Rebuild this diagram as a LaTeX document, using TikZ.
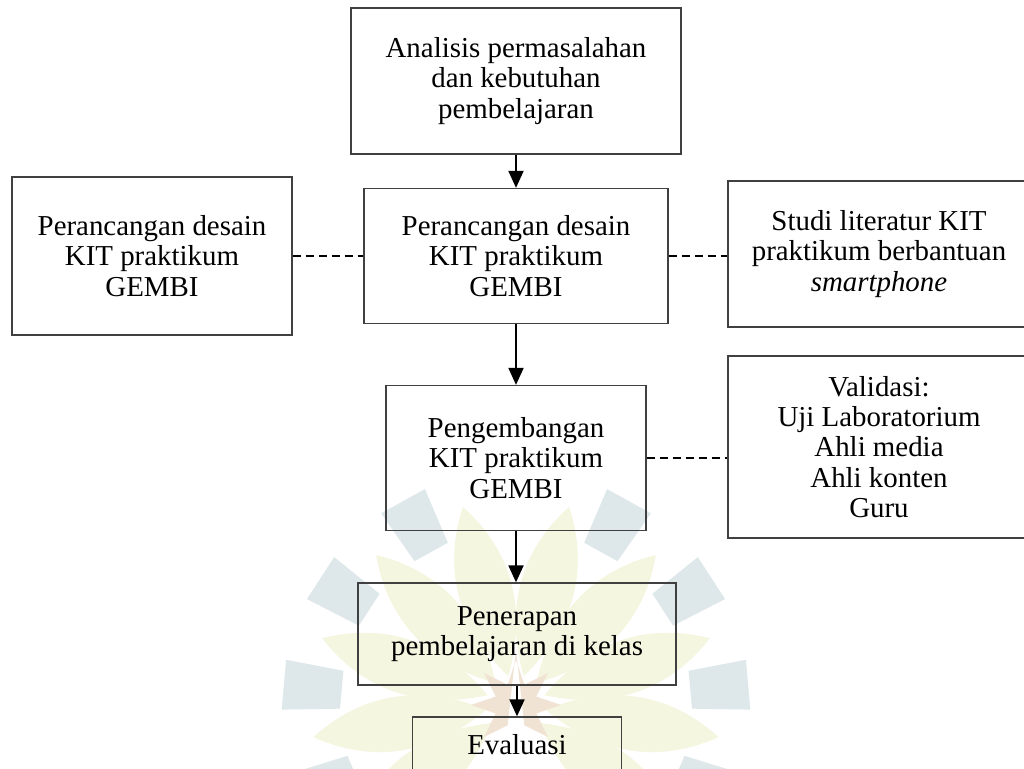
\documentclass[tikz,border=0pt]{standalone}
\usepackage{fontspec}
\setmainfont{Liberation Serif}
\usetikzlibrary{arrows.meta}
\definecolor{wmblue}{RGB}{222,231,234}
\definecolor{wmyellow}{RGB}{244,246,224}
\definecolor{wmstar}{RGB}{240,227,211}
\definecolor{boxline}{RGB}{64,64,64}
\tikzset{
  box/.style={draw=boxline, line width=1.3bp, align=center, inner sep=0pt,
    font=\fontsize{29}{30.4}\selectfont},
  flowarrow/.style={line width=2bp, -{Triangle[length=17bp,width=15bp]}},
  dashlink/.style={line width=1.6bp, dash pattern=on 8bp off 5bp},
  petal/.style={fill=wmyellow},
  ringpiece/.style={fill=wmblue},
}
\begin{document}
\begin{tikzpicture}[x=1bp,y=-1bp]
\useasboundingbox (0,0) rectangle (1024,769);
\fill[white] (0,0) rectangle (1024,769);
% faint watermark
\begin{scope}[shift={(516,705)}]
  \foreach \a in {-127,-99,-71,-43,-15,15,43,71,99,127} {
    \fill[petal, rotate=\a] (0,-30) .. controls (36,-90) and (36,-150) .. (0,-205)
      .. controls (-36,-150) and (-36,-90) .. (0,-30) -- cycle;
  }
  \foreach \a in {-141,-113,-85,-57,-29,29,57,85,113,141} {
    \fill[ringpiece, rotate=\a] (-19,-175) -- (19,-175) -- (25,-233) -- (-25,-233) -- cycle;
  }
  \fill[wmstar] (0,-55) \foreach \k in {1,...,15} { -- ({90+22.5*\k}:{33.5+11.5*cos(180*\k)}) } -- cycle;
\end{scope}

% boxes
\node[box, minimum width=330bp, minimum height=146bp] (ana) at (516,81)
  {Analisis permasalahan\\dan kebutuhan\\pembelajaran};
\node[box, minimum width=280bp, minimum height=158bp] (perL) at (152,256)
  {Perancangan desain\\KIT praktikum\\GEMBI};
\node[box, minimum width=304bp, minimum height=135bp] (perM) at (516,256)
  {Perancangan desain\\KIT praktikum\\GEMBI};
\node[box, minimum width=302bp, minimum height=146bp] (studi) at (879,254)
  {Studi literatur KIT\\praktikum berbantuan\\\textit{smartphone}};
\node[box, minimum width=260bp, minimum height=145bp] (peng) at (516,458)
  {Pengembangan\\KIT praktikum\\GEMBI};
\node[box, minimum width=302bp, minimum height=182bp] (val) at (879,447)
  {Validasi:\\Uji Laboratorium\\Ahli media\\Ahli konten\\Guru};
\node[box, minimum width=318bp, minimum height=102bp] (pen) at (517,634)
  {Penerapan\\pembelajaran di kelas};
\node[box, minimum width=209bp, minimum height=56bp] (eva) at (517,745)
  {Evaluasi};

% connectors
\draw[flowarrow] (ana.south) -- (ana.south |- perM.north);
\draw[flowarrow] (perM.south) -- (perM.south |- peng.north);
\draw[flowarrow] (peng.south) -- (peng.south |- pen.north);
\draw[flowarrow] (pen.south) -- (pen.south |- eva.north);
\draw[dashlink] (perL.east) -- (perL.east -| perM.west);
\draw[dashlink] (perM.east) -- (perM.east -| studi.west);
\draw[dashlink] (peng.east) -- (peng.east -| val.west);
\end{tikzpicture}
\end{document}
